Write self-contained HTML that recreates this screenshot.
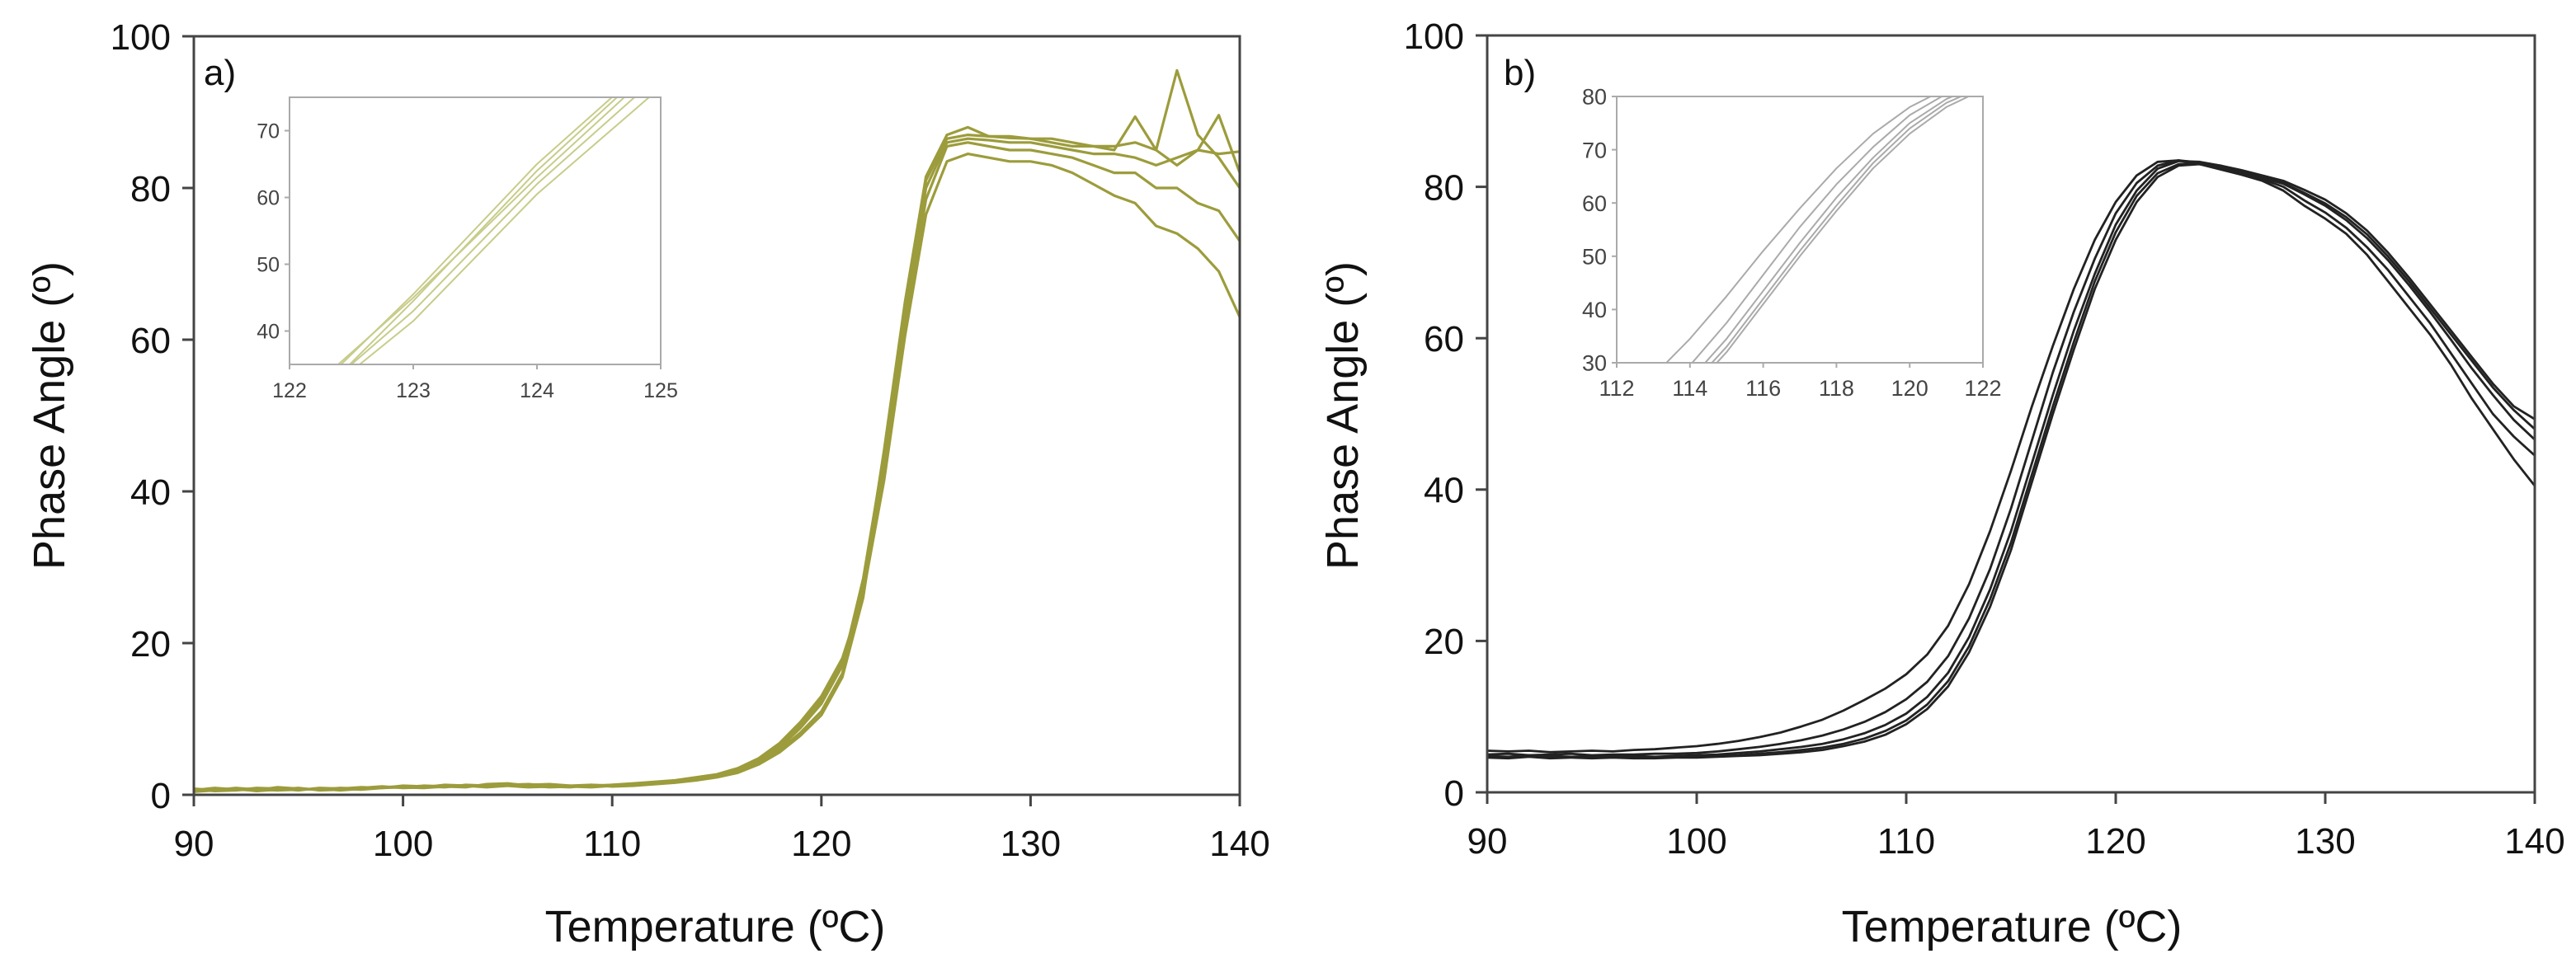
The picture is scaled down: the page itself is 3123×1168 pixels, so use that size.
<!DOCTYPE html>
<html><head><meta charset="utf-8"><style>
html,body{margin:0;padding:0;background:#fff;}
svg{display:block;font-family:"Liberation Sans",Arial,sans-serif;}
</style></head><body>
<svg id="chart" width="3123" height="1168" viewBox="0 0 3123 1168"></svg>
<script>
const temps = [];
for (let t = 90; t <= 140; t++) temps.push(t);
const yTicksMain = [0,20,40,60,80,100];
const xTicksMain = [90,100,110,120,130,140];
const insetAxTicks = [122,123,124,125];
const insetAyTicks = [40,50,60,70];
const insetBxTicks = [112,114,116,118,120,122];
const insetByTicks = [30,40,50,60,70,80];

const seriesA1 = [0.8,0.6,0.9,0.7,0.6,0.8,0.7,0.9,0.8,1.0,1.1,1.0,1.2,1.1,1.3,1.2,1.0,1.1,1.2,1.3,1.1,1.2,1.4,1.6,1.9,2.3,2.9,4.0,5.6,7.8,10.5,15.5,26.0,44.5,64.0,81.0,86.5,87.0,86.8,86.6,86.5,86.5,86.0,85.5,85.5,86.0,85.0,95.5,87.0,84.0,80.0];
const seriesA2 = [0.5,0.7,0.6,0.9,0.8,0.6,0.9,0.8,0.7,0.9,1.0,1.2,1.1,1.0,1.4,1.5,1.2,1.0,1.1,1.2,1.3,1.4,1.5,1.7,2.0,2.4,3.1,4.2,5.9,8.2,11.0,16.0,27.5,45.5,65.0,81.5,87.0,88.0,86.8,86.8,86.5,86.0,85.5,85.5,85.0,89.4,85.0,83.0,85.0,89.6,82.0];
const seriesA3 = [0.6,0.9,0.7,0.6,1.0,0.8,0.7,0.8,1.0,0.9,1.2,1.1,1.0,1.3,1.2,1.4,1.3,1.1,1.0,1.3,1.2,1.3,1.5,1.8,2.1,2.4,3.2,4.4,6.2,8.8,12.0,17.0,28.5,45.0,63.0,80.0,86.0,86.5,86.3,86.0,86.0,85.5,85.0,84.5,84.5,84.0,83.0,84.0,85.0,84.5,84.8];
const seriesA4 = [0.4,0.6,0.8,0.5,0.7,0.9,0.6,0.7,0.9,1.1,0.9,1.0,1.3,1.2,1.1,1.3,1.4,1.2,1.1,1.0,1.2,1.4,1.6,1.8,2.2,2.6,3.4,4.6,6.5,9.2,12.5,17.5,27.0,43.0,62.0,78.5,85.5,86.0,85.5,85.0,85.0,84.5,84.0,83.0,82.0,82.0,80.0,80.0,78.0,77.0,73.0];
const seriesA5 = [0.7,0.5,0.6,0.8,0.6,0.7,0.8,0.6,0.8,1.0,1.0,0.9,1.1,1.2,1.0,1.2,1.3,1.4,1.2,1.1,1.3,1.5,1.7,1.9,2.3,2.7,3.5,4.8,6.8,9.6,13.0,18.0,26.5,41.5,60.5,76.5,83.5,84.5,84.0,83.5,83.5,83.0,82.0,80.5,79.0,78.0,75.0,74.0,72.0,69.0,63.0];

const seriesB1 = [5.5,5.4,5.5,5.3,5.4,5.5,5.4,5.6,5.7,5.9,6.1,6.4,6.8,7.3,7.9,8.7,9.6,10.8,12.2,13.7,15.6,18.2,22.0,27.5,34.5,42.5,51.0,59.0,66.5,73.0,78.0,81.5,83.3,83.5,83.0,82.3,81.6,80.8,79.5,77.5,75.8,73.8,71.0,67.5,64.0,60.5,56.5,52.0,48.0,44.0,40.5];
const seriesB2 = [5.0,5.1,4.9,5.0,5.1,4.9,5.0,5.0,5.1,5.1,5.2,5.4,5.7,6.0,6.4,6.9,7.5,8.3,9.3,10.6,12.3,14.6,18.0,23.0,29.5,37.5,46.5,55.5,63.5,70.5,76.5,80.5,82.8,83.5,83.2,82.5,81.8,81.0,80.0,78.2,76.6,74.6,72.0,69.0,65.5,62.0,58.0,54.0,50.0,47.0,44.5];
const seriesB3 = [4.8,4.7,4.9,4.8,4.7,4.8,4.9,4.8,4.7,4.8,4.9,5.0,5.2,5.4,5.7,6.0,6.4,7.0,7.8,8.9,10.4,12.6,15.8,20.5,26.8,34.5,43.5,52.5,61.0,68.5,75.0,79.5,82.4,83.4,83.3,82.8,82.0,81.2,80.4,79.0,77.5,75.6,73.2,70.3,67.0,63.5,59.8,56.0,52.5,49.2,46.6];
const seriesB4 = [4.7,4.6,4.8,4.6,4.7,4.6,4.7,4.6,4.6,4.7,4.7,4.8,4.9,5.1,5.3,5.6,5.9,6.4,7.1,8.1,9.5,11.6,14.7,19.3,25.5,33.0,42.0,51.0,59.5,67.5,74.0,78.8,81.8,83.0,83.2,82.8,82.2,81.5,80.8,79.6,78.3,76.5,74.2,71.3,68.0,64.5,61.0,57.5,54.0,51.0,49.3];
const seriesB5 = [4.6,4.5,4.7,4.5,4.6,4.5,4.6,4.5,4.5,4.6,4.6,4.7,4.8,4.9,5.1,5.3,5.6,6.1,6.7,7.6,9.0,11.0,14.0,18.5,24.5,32.0,41.0,50.0,58.5,66.5,73.0,78.0,81.3,82.8,83.0,82.5,82.0,81.3,80.5,79.2,77.8,76.0,73.7,70.8,67.5,64.0,60.5,57.0,53.5,50.5,48.0];

const NS = 'http://www.w3.org/2000/svg';
const svg = document.getElementById('chart');
function mk(tag, attrs, parent, text){
  const e = document.createElementNS(NS, tag);
  for (const k in attrs) e.setAttribute(k, attrs[k]);
  if (text !== undefined) e.textContent = text;
  (parent || svg).appendChild(e);
  return e;
}
function scale(d0,d1,r0,r1){ return v => r0 + (v-d0)/(d1-d0)*(r1-r0); }

let clipId = 0;
function panel(cfg){
  const g = mk('g', {});
  
  
  const x = scale(cfg.xd[0], cfg.xd[1], cfg.x0, cfg.x1);
  const y = scale(cfg.yd[0], cfg.yd[1], cfg.y0, cfg.y1);
  const cid = 'clip' + (clipId++);
  const cp = mk('clipPath', {id: cid}, g);
  mk('rect', {x: cfg.x0, y: cfg.y1, width: cfg.x1-cfg.x0, height: cfg.y0-cfg.y1}, cp);
  const sg = mk('g', {'clip-path': 'url(#' + cid + ')'}, g);
  cfg.series.forEach((s, i) => {
    let d = '';
    s.forEach((v, j) => { d += (j ? 'L' : 'M') + x(temps[j]).toFixed(1) + ',' + y(v).toFixed(1); });
    const p = mk('path', {d: d, fill: 'none', stroke: cfg.color, 'stroke-width': cfg.lw, 'stroke-linejoin': 'round'}, sg);
    
    
  });
  const fr = mk('rect', {x: cfg.x0, y: cfg.y1, width: cfg.x1-cfg.x0, height: cfg.y0-cfg.y1, fill: 'none', stroke: cfg.axis, 'stroke-width': cfg.aw}, g);
  
  
  cfg.yt.forEach(v => {
    mk('line', {x1: cfg.x0 - cfg.tl, x2: cfg.x0, y1: y(v), y2: y(v), stroke: cfg.axis, 'stroke-width': cfg.aw}, g);
    const t = mk('text', {x: cfg.x0 - cfg.tl - cfg.pad, y: y(v) + cfg.fs*0.36, 'text-anchor': 'end', 'font-size': cfg.fs, fill: cfg.tc}, g, v);
    
    
  });
  cfg.xt.forEach(v => {
    mk('line', {x1: x(v), x2: x(v), y1: cfg.y0, y2: cfg.y0 + cfg.tl, stroke: cfg.axis, 'stroke-width': cfg.aw}, g);
    const t = mk('text', {x: x(v), y: cfg.y0 + cfg.tl + cfg.xpad, 'text-anchor': 'middle', 'font-size': cfg.fs, fill: cfg.tc}, g, v);
    
    
  });
  return g;
}

const seriesA = [seriesA1, seriesA2, seriesA3, seriesA4, seriesA5];
const seriesB = [seriesB1, seriesB2, seriesB3, seriesB4, seriesB5];

panel({name:'panel-a', xd:[90,140], yd:[0,100], x0:235, x1:1503, y0:964, y1:44, series:seriesA, color:'#9c9c3c', lw:3.2, axis:'#444', aw:3, tl:14, pad:14, xpad:60, fs:44, tc:'#111', yt:yTicksMain, xt:xTicksMain});
panel({name:'panel-b', xd:[90,140], yd:[0,100], x0:1803, x1:3073, y0:961, y1:43, series:seriesB, color:'#222', lw:2.8, axis:'#444', aw:3, tl:14, pad:14, xpad:60, fs:44, tc:'#111', yt:yTicksMain, xt:xTicksMain});

mk('rect',{x:351,y:118,width:450,height:324,fill:'#fff'});
panel({name:'inset-a', xd:[122,125], yd:[35,75], x0:351, x1:801, y0:442, y1:118, series:seriesA, color:'#c8cc8a', lw:2, axis:'#aaa', aw:2, tl:6, pad:6, xpad:34, fs:25, tc:'#444', yt:insetAyTicks, xt:insetAxTicks});
mk('rect',{x:1960,y:117,width:444,height:323,fill:'#fff'});
panel({name:'inset-b', xd:[112,122], yd:[30,80], x0:1960, x1:2404, y0:440, y1:117, series:seriesB, color:'#aaa', lw:2, axis:'#aaa', aw:2, tl:6, pad:6, xpad:34, fs:27, tc:'#444', yt:insetByTicks, xt:insetBxTicks});

function label(txt, attrs, name){
  const t = mk('text', attrs, svg, txt);
  
  
}
label('a)', {x:247, y:103, 'font-size':44, fill:'#111'}, 'panel-a-letter');
label('b)', {x:1823, y:103, 'font-size':44, fill:'#111'}, 'panel-b-letter');
label('Temperature (ºC)', {x:867, y:1142, 'text-anchor':'middle', 'font-size':54, fill:'#111'}, 'panel-a-x-axis-title');
label('Temperature (ºC)', {x:2439, y:1142, 'text-anchor':'middle', 'font-size':54, fill:'#111'}, 'panel-b-x-axis-title');
label('Phase Angle (º)', {x:0, y:0, transform:'translate(78,504) rotate(-90)', 'text-anchor':'middle', 'font-size':54, fill:'#111'}, 'panel-a-y-axis-title');
label('Phase Angle (º)', {x:0, y:0, transform:'translate(1646,504) rotate(-90)', 'text-anchor':'middle', 'font-size':54, fill:'#111'}, 'panel-b-y-axis-title');
</script>
</body></html>
